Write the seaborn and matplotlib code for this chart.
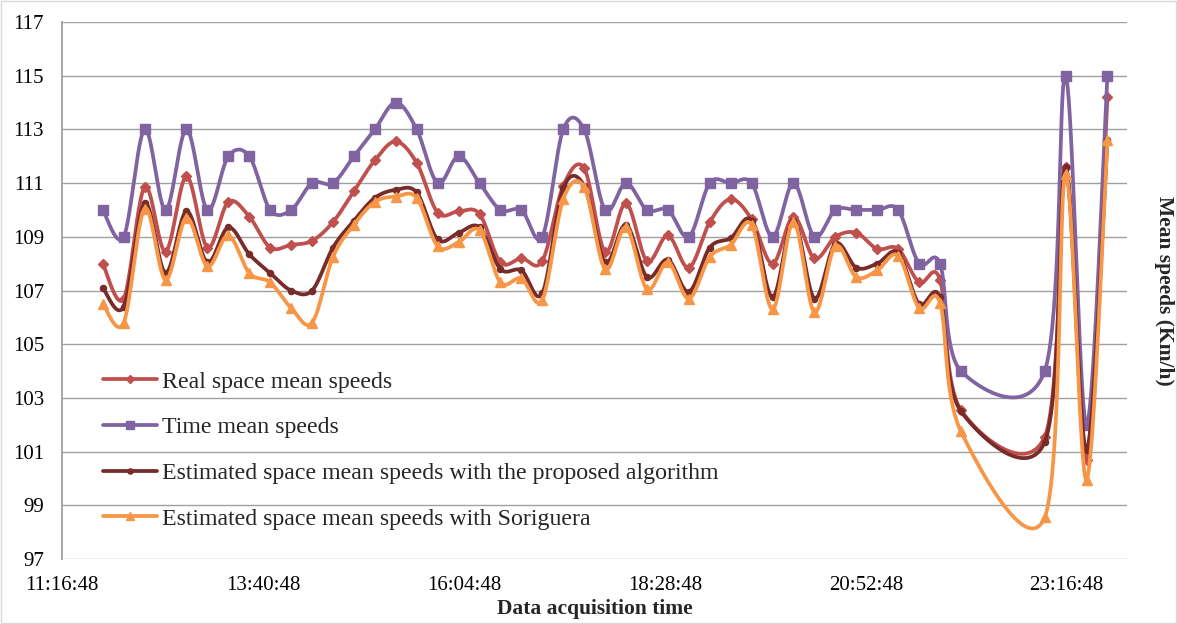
import numpy as np
import pandas as pd
import matplotlib
matplotlib.use("Agg")
import matplotlib.pyplot as plt
import seaborn as sns
from matplotlib.lines import Line2D
from matplotlib.patches import Rectangle

# ---------------- data ----------------
times = ["11:46", "12:01", "12:16", "12:31", "12:46", "13:01", "13:16", "13:31",
         "13:46", "14:01", "14:16", "14:31", "14:46", "15:01", "15:16", "15:31",
         "15:46", "16:01", "16:16", "16:31", "16:46", "17:01", "17:16", "17:31",
         "17:46", "18:01", "18:16", "18:31", "18:46", "19:01", "19:16", "19:31",
         "19:46", "20:01", "20:16", "20:31", "20:46", "21:01", "21:16", "21:31",
         "21:46", "22:01", "23:01", "23:16", "23:31", "23:46"]

real_space = [108.0, 106.7, 110.85, 108.45, 111.25, 108.6, 110.3, 109.75,
              108.6, 108.7, 108.85, 109.55, 110.7, 111.85, 112.55, 111.75,
              109.9, 109.95, 109.85, 108.05, 108.2, 108.1, 110.9, 111.55,
              108.45, 110.25, 108.1, 109.05, 107.85, 109.55, 110.4, 109.65,
              108.0, 109.75, 108.2, 109.0, 109.15, 108.55, 108.55, 107.3,
              107.4, 102.55, 101.55, 111.6, 100.7, 114.2]

time_mean = [110, 109, 113, 110, 113, 110, 112, 112,
             110, 110, 111, 111, 112, 113, 114, 113,
             111, 112, 111, 110, 110, 109, 113, 113,
             110, 111, 110, 110, 109, 111, 111, 111,
             109, 111, 109, 110, 110, 110, 110, 108,
             108, 104, 104, 115, 102, 115]

est_proposed = [107.1, 106.4, 110.25, 107.65, 109.95, 108.05, 109.35, 108.35,
                107.65, 107.0, 107.0, 108.6, 109.6, 110.45, 110.75, 110.65,
                108.9, 109.15, 109.35, 107.8, 107.75, 106.9, 110.8, 110.9,
                108.05, 109.45, 107.5, 108.15, 106.95, 108.6, 108.95, 109.6,
                106.75, 109.6, 106.7, 108.75, 107.85, 108.0, 108.4, 106.5,
                106.75, 102.5, 101.35, 111.6, 101.05, 112.6]

est_soriguera = [106.5, 105.8, 110.05, 107.4, 109.7, 107.9, 109.05, 107.65,
                 107.3, 106.35, 105.8, 108.25, 109.45, 110.3, 110.5, 110.45,
                 108.65, 108.8, 109.25, 107.3, 107.45, 106.65, 110.4, 110.85,
                 107.8, 109.35, 107.05, 108.05, 106.7, 108.25, 108.7, 109.45,
                 106.3, 109.55, 106.2, 108.65, 107.5, 107.75, 108.3, 106.35,
                 106.55, 101.75, 98.55, 111.35, 99.95, 112.6]

series_names = ["Real space mean speeds",
                "Time mean speeds",
                "Estimated space mean speeds with the proposed algorithm",
                "Estimated space mean speeds with Soriguera"]

tick_hours = [11.28, 13.68, 16.08, 18.48, 20.88, 23.28]
tick_labels = ["11:16:48", "13:40:48", "16:04:48", "18:28:48", "20:52:48", "23:16:48"]
y_ticks = [97, 99, 101, 103, 105, 107, 109, 111, 113, 115, 117]

# ---------------- helpers ----------------
def to_hours(s):
    h, m = s.split(":")
    return int(h) + int(m) / 60.0

def smooth(x, y, n=40):
    P = np.column_stack([x, y]).astype(float)
    out = []
    for i in range(len(P) - 1):
        p0 = P[i - 1] if i > 0 else P[i]
        p1, p2 = P[i], P[i + 1]
        p3 = P[i + 2] if i + 2 < len(P) else P[i + 1]
        c1 = p1 + (p2 - p0) / 6.0
        c2 = p2 - (p3 - p1) / 6.0
        t = np.linspace(0, 1, n)[:, None]
        seg = ((1 - t) ** 3) * p1 + 3 * ((1 - t) ** 2) * t * c1 \
            + 3 * (1 - t) * (t ** 2) * c2 + (t ** 3) * p2
        out.append(seg if i == 0 else seg[1:])
    return np.vstack(out)

x_hours = np.array([to_hours(t) for t in times])

df = pd.DataFrame({"hour": x_hours,
                   series_names[0]: real_space,
                   series_names[1]: time_mean,
                   series_names[2]: est_proposed,
                   series_names[3]: est_soriguera})

styles = {
    series_names[0]: dict(color="#C0504D", marker="D", ms=4.6),
    series_names[1]: dict(color="#8064A2", marker="s", ms=7.0),
    series_names[2]: dict(color="#772C2A", marker="o", ms=4.4),
    series_names[3]: dict(color="#F79646", marker="^", ms=7.0),
}

# ---------------- plot ----------------
sns.set_theme(style="white")
plt.rcParams["font.family"] = ["Liberation Serif", "DejaVu Serif"]

fig = plt.figure(figsize=(11.77, 6.24), dpi=100)
ax = fig.add_axes([62 / 1177, 1 - 559 / 624, (1127 - 62) / 1177, (559 - 22) / 624])

lw = 2.7
handles = []
for name in series_names:
    st = styles[name]
    sm = smooth(df["hour"].values, df[name].values)
    sns.lineplot(x=sm[:, 0], y=sm[:, 1], sort=False, estimator=None, ax=ax,
                 color=st["color"], linewidth=lw, legend=False)
    ax.plot(df["hour"], df[name], linestyle="none", marker=st["marker"],
            markersize=st["ms"], color=st["color"], markeredgecolor=st["color"])
    handles.append(Line2D([], [], color=st["color"], linewidth=lw,
                          marker=st["marker"], markersize=st["ms"] * 0.85,
                          markeredgecolor=st["color"]))

ax.set_xlim(11.28, 24.0)
ax.set_ylim(97, 117)
ax.set_xticks(tick_hours)
ax.set_xticklabels(tick_labels)
ax.set_yticks(y_ticks)
ax.set_yticklabels([str(v) for v in y_ticks])
ax.tick_params(axis="both", length=0, labelsize=15, colors="black")
ax.tick_params(axis="y", pad=13)
ax.tick_params(axis="x", pad=12)

ax.grid(False)
for v in y_ticks:
    ax.axhline(v, color="#A0A0A0", linewidth=1.0, zorder=0)
for s in ["top", "right", "bottom"]:
    ax.spines[s].set_visible(False)
ax.spines["left"].set_color("#A0A0A0")
ax.spines["left"].set_linewidth(1.3)

ax.set_xlabel("Data acquisition time", fontsize=15.5, fontweight="bold")
ax.xaxis.set_label_coords(0.5, -(609 - 559) / 537)
ax.xaxis.label.set_va("center")
ax.set_ylabel("Mean speeds (Km/h)", fontsize=15.5, fontweight="bold",
              rotation=270)
ax.yaxis.set_label_coords((1164 - 62) / 1065, 0.5)
ax.yaxis.label.set_va("center")

leg = fig.legend(handles, series_names, loc="upper left",
                 bbox_to_anchor=(103 / 1177, 1 - 371 / 624),
                 frameon=False, fontsize=17.2, handlelength=2.25,
                 handletextpad=0.2, labelspacing=1.0, borderpad=0,
                 borderaxespad=0)

fig.patches.append(Rectangle((0.001, 0.001), 0.998, 0.998, transform=fig.transFigure,
                             fill=False, edgecolor="#D9D9D9", linewidth=1.0))

fig.savefig("out.png", dpi=100)
